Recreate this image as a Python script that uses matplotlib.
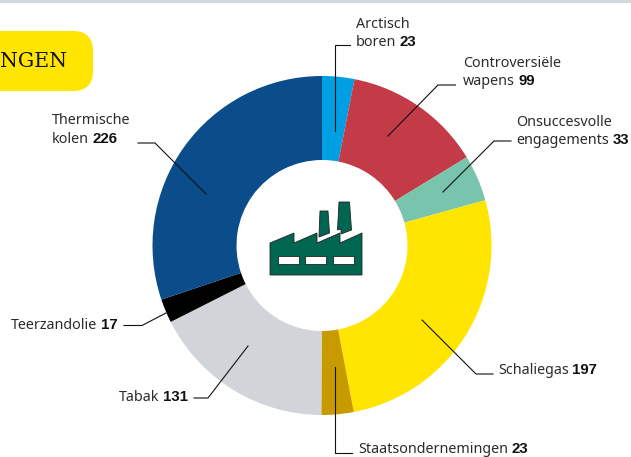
import matplotlib
matplotlib.use('Agg')
import matplotlib.pyplot as plt
from matplotlib.patches import FancyBboxPatch, Polygon, Rectangle

# Data, clockwise from the top
categories = ['Arctisch boren', 'Controversiële wapens', 'Onsuccesvolle engagements', 'Schaliegas',
              'Staatsondernemingen', 'Tabak', 'Teerzandolie', 'Thermische kolen']
values = [23, 99, 33, 197, 23, 131, 17, 226]
colors = ['#009fe3', '#c33b47', '#79c4ac', '#ffe500', '#c79a00', '#d1d5d9', '#000000', '#0b4d8a']

W, H = 631, 457


def py(y):
    # picture pixels count from the top
    return H - y


def line(points):
    ax.plot([p[0] for p in points], [py(p[1]) for p in points], color='#111111', lw=0.8,
            solid_joinstyle='miter', zorder=5)


def label(x, y, text, bold=None):
    t = ax.text(x, py(y), text, fontsize=10.3, color='#2b2b2b', family='Noto Sans', ha='left', va='baseline')
    if bold:
        # axes fill the figure at dpi 100, so window pixels equal data units
        box = t.get_window_extent(fig.canvas.get_renderer())
        ax.text(box.x1 + 3.5, py(y), bold, fontsize=10.8, fontweight='bold', color='#111111',
                family='Liberation Sans', ha='left', va='baseline')


fig = plt.figure(figsize=(W / 100, H / 100), dpi=100)
ax = fig.add_axes([0, 0, 1, 1])

# Donut
ax.pie(values, colors=colors, startangle=90, counterclock=False, center=(322, py(245.5)), radius=169.5,
       wedgeprops=dict(width=84, linewidth=0), frame=True)
ax.set_xlim(0, W)
ax.set_ylim(0, H)
ax.set_aspect('equal')
ax.axis('off')

# Top rule and heading box
ax.add_patch(Rectangle((0, py(3)), W, 3, color='#d5d9dd', lw=0))
ax.add_patch(FancyBboxPatch((-40, py(91) + 20), 113, 20, boxstyle='round,pad=20,rounding_size=20',
                            fc='#ffe500', ec='none'))
ax.text(67, py(67), 'NGEN', fontsize=14.8, family='DejaVu Serif', color='#111111', ha='right', va='baseline')

# Factory icon
factory = '#00664f'
body = [(270, 243), (294, 233), (294, 243), (317, 233), (317, 243), (340, 233), (340, 243), (362, 233),
        (362, 275), (270, 275)]
chimney1 = [(320, 211), (328, 211), (329.5, 233), (319, 237)]
chimney2 = [(339, 202), (349.5, 202), (351.5, 230), (341, 234), (341, 229), (337.5, 230)]
for shape in [body, chimney1, chimney2]:
    ax.add_patch(Polygon([(x, py(y)) for x, y in shape], closed=True, fc=factory, ec='#222222', lw=0.6, zorder=4))
for x0 in [278, 305, 333]:
    ax.add_patch(Rectangle((x0, py(263.5)), 21, 7.5, fc='white', ec='#222222', lw=0.6, zorder=5))

# Leader lines
line([(350, 44.5), (334.5, 44.5), (334.5, 131)])
line([(455.5, 85), (438, 85), (388, 136)])
line([(511, 141), (494, 141), (443, 192)])
line([(493, 374), (476, 374), (422, 320)])
line([(352, 453), (335, 453), (335, 367)])
line([(194, 398), (208, 398), (248, 346)])
line([(124, 325.5), (142, 325.5), (166, 313)])
line([(138, 143), (155, 143), (206, 194)])

# Labels
label(356, 28, 'Arctisch')
label(356, 46, 'boren', '23')
label(463, 67, 'Controversiële')
label(463, 85, 'wapens', '99')
label(516, 126, 'Onsuccesvolle')
label(516, 144, 'engagements', '33')
label(498, 374, 'Schaliegas', '197')
label(358, 453, 'Staatsondernemingen', '23')
label(119, 401, 'Tabak', '131')
label(11, 329, 'Teerzandolie', '17')
label(52, 124, 'Thermische')
label(52, 143, 'kolen', '226')

fig.savefig('out.png', dpi=100)
